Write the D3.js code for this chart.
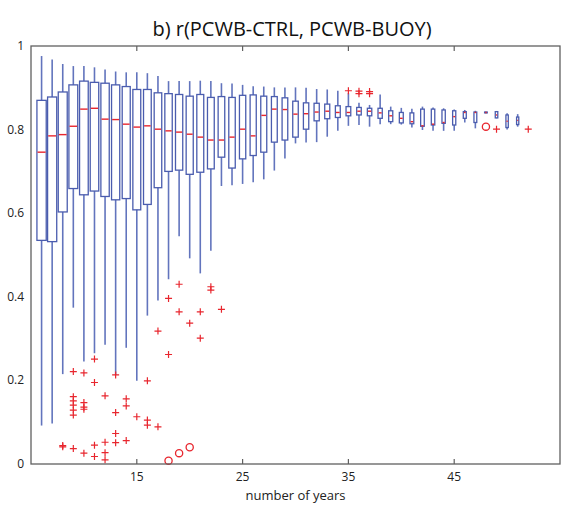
<!DOCTYPE html>
<html><head><meta charset="utf-8">
<script src="https://cdn.jsdelivr.net/npm/d3@7"></script>
<style>body{margin:0;background:#fff}svg{display:block}</style>
</head><body><svg id="c" width="562" height="507"></svg>
<script>
const years = [6,7,8,9,10,11,12,13,14,15,16,17,18,19,20,21,22,23,24,25,26,27,28,29,30,31,32,33,34,35,36,37,38,39,40,41,42,43,44,45,46,47,48,49,50,51];
const whiskerHigh = [0.976,0.968,0.957,0.952,0.952,0.949,0.944,0.939,0.937,0.937,0.935,0.928,0.916,0.916,0.916,0.917,0.916,0.911,0.910,0.907,0.904,0.903,0.901,0.901,0.901,0.900,0.897,0.896,0.893,0.887,0.864,0.859,0.884,0.855,0.852,0.850,0.855,0.853,0.851,0.848,0.847,0.845,0.843,0.843,0.839,0.837];
const q3 = [0.870,0.878,0.890,0.907,0.916,0.913,0.911,0.907,0.903,0.896,0.896,0.888,0.886,0.884,0.880,0.884,0.877,0.879,0.877,0.882,0.883,0.880,0.879,0.876,0.868,0.864,0.863,0.861,0.857,0.855,0.853,0.851,0.851,0.845,0.841,0.840,0.849,0.849,0.847,0.845,0.843,0.842,0.842,0.843,0.835,0.830];
const medians = [0.746,0.785,0.788,0.808,0.849,0.851,0.825,0.824,0.813,0.806,0.809,0.801,0.797,0.794,0.789,0.782,0.775,0.775,0.782,0.801,0.785,0.834,0.849,0.848,0.837,0.838,0.842,0.844,0.841,0.841,0.844,0.844,0.840,0.833,0.827,0.819,0.809,0.813,0.817,0.831,0.841,0.841,0.841,0.835,0.820,0.822];
const q1 = [0.535,0.532,0.603,0.659,0.644,0.653,0.640,0.632,0.635,0.608,0.621,0.661,0.700,0.703,0.693,0.698,0.706,0.734,0.708,0.730,0.738,0.746,0.770,0.775,0.782,0.801,0.821,0.826,0.829,0.833,0.835,0.833,0.827,0.819,0.816,0.814,0.808,0.811,0.815,0.811,0.827,0.817,0.840,0.828,0.805,0.812];
const whiskerLow = [0.092,0.097,0.215,0.374,0.245,0.265,0.285,0.213,0.278,0.199,0.355,0.391,0.442,0.545,0.492,0.456,0.510,0.665,0.667,0.670,0.674,0.681,0.702,0.731,0.767,0.769,0.770,0.783,0.797,0.809,0.811,0.807,0.813,0.813,0.812,0.805,0.799,0.797,0.797,0.797,0.817,0.803,0.839,0.827,0.800,0.807];
const outlierYears = [8,8,9,9,9,9,9,9,9,10,10,10,10,10,11,11,11,11,12,12,12,12,13,13,13,13,14,14,14,15,16,16,16,17,17,18,18,19,19,20,21,21,22,22,23,35,36,36,37,37,49,52];
const outlierValues = [0.044,0.041,0.221,0.161,0.151,0.141,0.129,0.117,0.037,0.218,0.147,0.136,0.131,0.026,0.251,0.195,0.045,0.018,0.163,0.052,0.027,0.010,0.213,0.123,0.073,0.051,0.156,0.139,0.056,0.113,0.199,0.105,0.093,0.318,0.089,0.396,0.262,0.430,0.364,0.337,0.364,0.301,0.424,0.416,0.370,0.893,0.892,0.886,0.891,0.886,0.801,0.801];
const circleYears = [18,19,20,48];
const circleValues = [0.008,0.026,0.040,0.807];
const xTicks = [15,25,35,45];
const yTicks = [0,0.2,0.4,0.6,0.8,1];
const titleText = "b) r(PCWB-CTRL, PCWB-BUOY)";
const xLabel = "number of years";

const svg = d3.select("#c");
const L=31, R=560, T=46, B=464;
const x = d3.scaleLinear().domain([5,55]).range([L,R]);
const y = d3.scaleLinear().domain([0,1]).range([B,T]);
const boxW = d3.scaleLinear().domain([6,51]).range([9.3,2.2]);
const font = "'Open Sans','Noto Sans',sans-serif";
const blue = "#4a5cae", wblue = "#6274bd", red = "#e8262e";

const data = years.map((yr,i)=>({yr, hi:whiskerHigh[i], q3:q3[i], med:medians[i], q1:q1[i], lo:whiskerLow[i]}));
const g = svg.append("g");
// whiskers
g.selectAll(".wu").data(data).join("line")
  .attr("x1",d=>x(d.yr)).attr("x2",d=>x(d.yr))
  .attr("y1",d=>y(d.q3)).attr("y2",d=>y(d.hi))
  .attr("stroke",wblue).attr("stroke-width",1.6);
g.selectAll(".wl").data(data).join("line")
  .attr("x1",d=>x(d.yr)).attr("x2",d=>x(d.yr))
  .attr("y1",d=>y(d.q1)).attr("y2",d=>y(d.lo))
  .attr("stroke",wblue).attr("stroke-width",1.6);
// boxes
g.selectAll(".bx").data(data).join("rect")
  .attr("x",d=>x(d.yr)-boxW(d.yr)/2).attr("width",d=>boxW(d.yr))
  .attr("y",d=>y(d.q3)).attr("height",d=>Math.max(0.5,y(d.q1)-y(d.q3)))
  .attr("fill","none").attr("stroke",blue).attr("stroke-width",1.3);
// medians
g.selectAll(".md").data(data).join("line")
  .attr("x1",d=>x(d.yr)-boxW(d.yr)/2+0.6).attr("x2",d=>x(d.yr)+boxW(d.yr)/2-0.6)
  .attr("y1",d=>y(d.med)).attr("y2",d=>y(d.med))
  .attr("stroke",red).attr("stroke-width",1.4);
// outliers
const outs = outlierYears.map((yr,i)=>({yr, v:outlierValues[i]}));
const s = 3.5;
g.selectAll(".oh").data(outs).join("path")
  .attr("d",d=>`M${x(d.yr)-s},${y(d.v)}h${2*s}M${x(d.yr)},${y(d.v)-s}v${2*s}`)
  .attr("stroke",red).attr("stroke-width",1.2).attr("fill","none");
const circs = circleYears.map((yr,i)=>({yr, v:circleValues[i]}));
g.selectAll(".ci").data(circs).join("circle")
  .attr("cx",d=>x(d.yr)).attr("cy",d=>y(d.v)).attr("r",3.6)
  .attr("fill","none").attr("stroke",red).attr("stroke-width",1.3);

// frame
svg.append("rect").attr("x",L).attr("y",T).attr("width",R-L).attr("height",B-T)
  .attr("fill","none").attr("stroke","#606060").attr("stroke-width",1.3);
// x ticks (inside, top & bottom)
svg.selectAll(".xt").data(xTicks).join("path")
  .attr("d",d=>`M${x(d)},${B}v-5M${x(d)},${T}v5`)
  .attr("stroke","#606060").attr("stroke-width",1.2);
svg.selectAll(".xl").data(xTicks).join("text")
  .attr("x",d=>x(d)).attr("y",B+17).attr("text-anchor","middle")
  .attr("font-family",font).attr("font-size",12).attr("fill","#222").text(d=>d);
svg.selectAll(".yl").data(yTicks).join("text")
  .attr("x",L-7).attr("y",d=>y(d)+4).attr("text-anchor","end")
  .attr("font-family",font).attr("font-size",12).attr("fill","#222").text(d=>d3.format("~g")(d));
svg.append("text").attr("x",(L+R)/2).attr("y",B+36).attr("text-anchor","middle")
  .attr("font-family",font).attr("font-size",13).attr("fill","#222").text(xLabel);
svg.append("text").attr("x",292).attr("y",36).attr("text-anchor","middle")
  .attr("font-family",font).attr("font-size",20).attr("fill","#111").text(titleText);
</script></body></html>
